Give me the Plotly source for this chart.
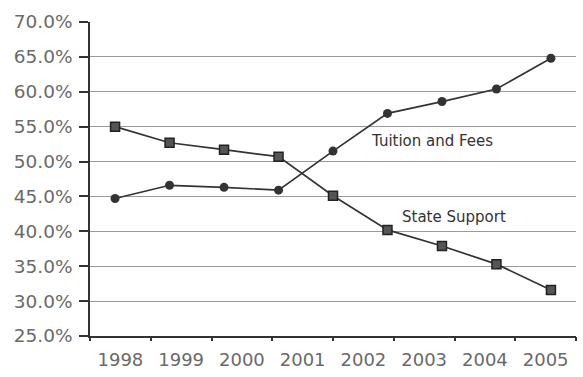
import plotly.graph_objects as go

# ---- data ----
years = ["1998", "1999", "2000", "2001", "2002", "2003", "2004", "2005"]
steps = [0, 1, 2, 3, 4, 5, 6, 7, 8]
tuition = [44.7, 46.6, 46.3, 45.9, 51.5, 56.9, 58.6, 60.4, 64.8]
state = [55.0, 52.7, 51.7, 50.7, 45.1, 40.2, 37.9, 35.3, 31.6]
y_ticks = [25, 30, 35, 40, 45, 50, 55, 60, 65, 70]
y_labels = [f"{v:.1f}%" for v in y_ticks]

line_col = "#333333"
label_font = dict(family="DejaVu Sans", size=18.5, color="#6a6a6a")

fig = go.Figure()
fig.add_trace(go.Scatter(
    x=steps, y=tuition, mode="lines+markers", name="Tuition and Fees",
    line=dict(color=line_col, width=1.7),
    marker=dict(symbol="circle", size=9, color="#333333"),
    showlegend=False,
))
fig.add_trace(go.Scatter(
    x=steps, y=state, mode="lines+markers", name="State Support",
    line=dict(color=line_col, width=1.7),
    marker=dict(symbol="square", size=9, color="#555555",
                line=dict(color="#222222", width=1.5)),
    showlegend=False,
))
# carrier trace for the year-label axis (draws nothing)
fig.add_trace(go.Scatter(
    x=years, y=[None] * len(years), xaxis="x2", yaxis="y",
    mode="markers", showlegend=False, hoverinfo="skip",
))

fig.add_annotation(x=5.82, y=52.9, xref="x", yref="y", text="Tuition and Fees",
                   showarrow=False, font=dict(family="DejaVu Sans", size=15, color="#333333"))
fig.add_annotation(x=6.22, y=42.0, xref="x", yref="y", text="State Support",
                   showarrow=False, font=dict(family="DejaVu Sans", size=15, color="#333333"))

fig.update_layout(
    width=583, height=377,
    margin=dict(l=90, r=7, t=22, b=41),
    paper_bgcolor="white", plot_bgcolor="white",
    showlegend=False,
    xaxis=dict(
        range=[-0.46, 8.46], showticklabels=False, ticks="",
        showgrid=False, zeroline=False,
        showline=True, linecolor="#333333", linewidth=1.5,
    ),
    xaxis2=dict(
        type="category", overlaying="x", anchor="y", side="bottom",
        range=[-0.5, len(years) - 0.5],
        ticks="outside", tickson="boundaries", ticklen=4, tickwidth=1.5,
        tickcolor="#333333", ticklabelstandoff=11,
        showgrid=False, zeroline=False, showline=False,
        tickfont=dict(family="DejaVu Sans", size=18, color="#6a6a6a"),
    ),
    yaxis=dict(
        range=[25, 70], tickmode="array", tickvals=y_ticks, ticktext=y_labels,
        showline=True, linecolor="#333333", linewidth=1.5,
        ticks="outside", ticklen=9, tickwidth=1.5, tickcolor="#333333",
        showgrid=True, gridcolor="#9a9a9a", gridwidth=1,
        zeroline=False, ticklabelstandoff=3,
        tickfont=label_font,
    ),
)

fig.write_html("out.html")
